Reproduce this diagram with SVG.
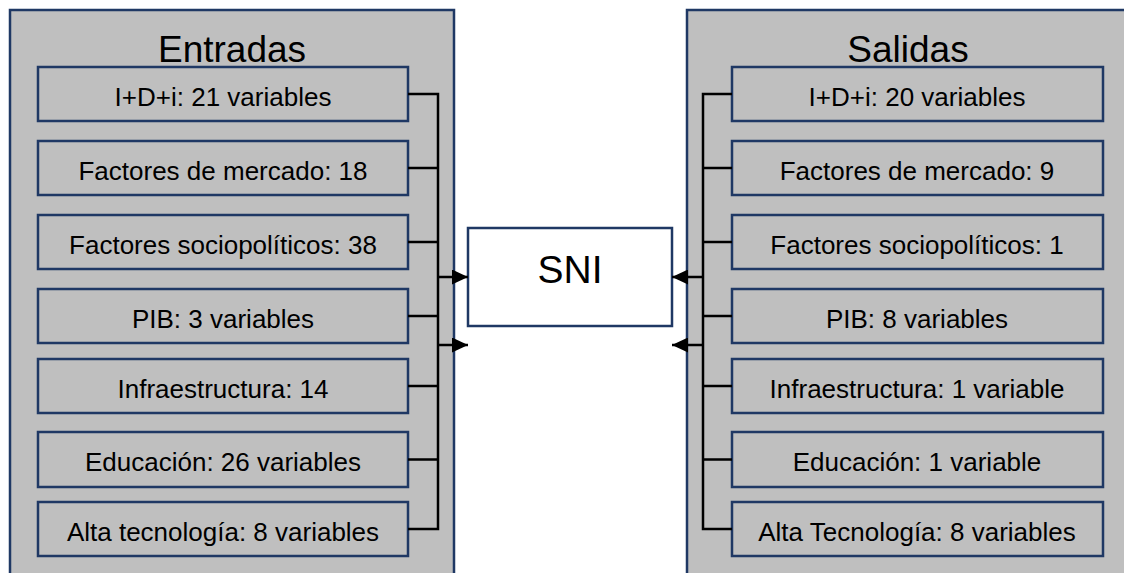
<svg xmlns="http://www.w3.org/2000/svg" width="1124" height="573" viewBox="0 0 1124 573">
<defs>
<style>
.panel{fill:#BFBFBF;stroke:#1F3864;stroke-width:2.5}
.box{fill:#BFBFBF;stroke:#1F3864;stroke-width:2.5}
.sni{fill:#FFFFFF;stroke:#1F3864;stroke-width:2.5}
.t{font-family:"Liberation Sans",Arial,sans-serif;font-size:26px;fill:#000;text-anchor:middle}
.h{font-family:"Liberation Sans",Arial,sans-serif;font-size:37px;fill:#000;text-anchor:middle}
.c{stroke:#000;stroke-width:2.5;fill:none}
</style>
<marker id="ah" markerUnits="userSpaceOnUse" markerWidth="16" markerHeight="15" refX="16" refY="7.5" orient="auto">
<path d="M0,0 L16,7.5 L0,15 Z" fill="#000"/>
</marker>
</defs>
<rect width="1124" height="573" fill="#FFFFFF"/>
<g id="entradas">
<rect class="panel" x="10" y="10" width="444" height="600"/>
<text class="h" x="232" y="62">Entradas</text>
</g>
<g id="salidas">
<rect class="panel" x="687" y="10" width="500" height="600"/>
<text class="h" x="908" y="62">Salidas</text>
</g>
<g id="in1"><rect class="box" x="38" y="67" width="370" height="54"/><text class="t" x="223" y="106">I+D+i: 21 variables</text></g>
<g id="in2"><rect class="box" x="38" y="141" width="370" height="54"/><text class="t" x="223" y="180">Factores de mercado: 18</text></g>
<g id="in3"><rect class="box" x="38" y="215" width="370" height="54"/><text class="t" x="223" y="254">Factores sociopolíticos: 38</text></g>
<g id="in4"><rect class="box" x="38" y="289" width="370" height="54"/><text class="t" x="223" y="328">PIB: 3 variables</text></g>
<g id="in5"><rect class="box" x="38" y="359" width="370" height="54"/><text class="t" x="223" y="398">Infraestructura: 14</text></g>
<g id="in6"><rect class="box" x="38" y="432" width="370" height="55"/><text class="t" x="223" y="471">Educación: 26 variables</text></g>
<g id="in7"><rect class="box" x="38" y="502" width="370" height="54"/><text class="t" x="223" y="541">Alta tecnología: 8 variables</text></g>
<g id="out1"><rect class="box" x="732" y="67" width="371" height="54"/><text class="t" x="917" y="106">I+D+i: 20 variables</text></g>
<g id="out2"><rect class="box" x="732" y="141" width="371" height="54"/><text class="t" x="917" y="180">Factores de mercado: 9</text></g>
<g id="out3"><rect class="box" x="732" y="215" width="371" height="54"/><text class="t" x="917" y="254">Factores sociopolíticos: 1</text></g>
<g id="out4"><rect class="box" x="732" y="289" width="371" height="54"/><text class="t" x="917" y="328">PIB: 8 variables</text></g>
<g id="out5"><rect class="box" x="732" y="359" width="371" height="54"/><text class="t" x="917" y="398">Infraestructura: 1 variable</text></g>
<g id="out6"><rect class="box" x="732" y="432" width="371" height="55"/><text class="t" x="917" y="471">Educación: 1 variable</text></g>
<g id="out7"><rect class="box" x="732" y="502" width="371" height="54"/><text class="t" x="917" y="541">Alta Tecnología: 8 variables</text></g>
<g id="sni"><rect class="sni" x="468" y="228" width="204" height="98"/><text class="h" x="570" y="283" style="font-size:39px">SNI</text></g>
<g id="connectors">
<path class="c" d="M408,94 H438 M408,168 H438 M408,242 H438 M408,316 H438 M408,386 H438 M408,459.5 H438 M408,529 H438 M438,92.75 V530.25"/>
<path class="c" d="M732,94 H703 M732,168 H703 M732,242 H703 M732,316 H703 M732,386 H703 M732,459.5 H703 M732,529 H703 M703,92.75 V530.25"/>
<line class="c" x1="438" y1="277" x2="468" y2="277" marker-end="url(#ah)"/>
<line class="c" x1="438" y1="345" x2="468" y2="345" marker-end="url(#ah)"/>
<line class="c" x1="703" y1="277" x2="672" y2="277" marker-end="url(#ah)"/>
<line class="c" x1="703" y1="345" x2="672" y2="345" marker-end="url(#ah)"/>
</g>
</svg>
